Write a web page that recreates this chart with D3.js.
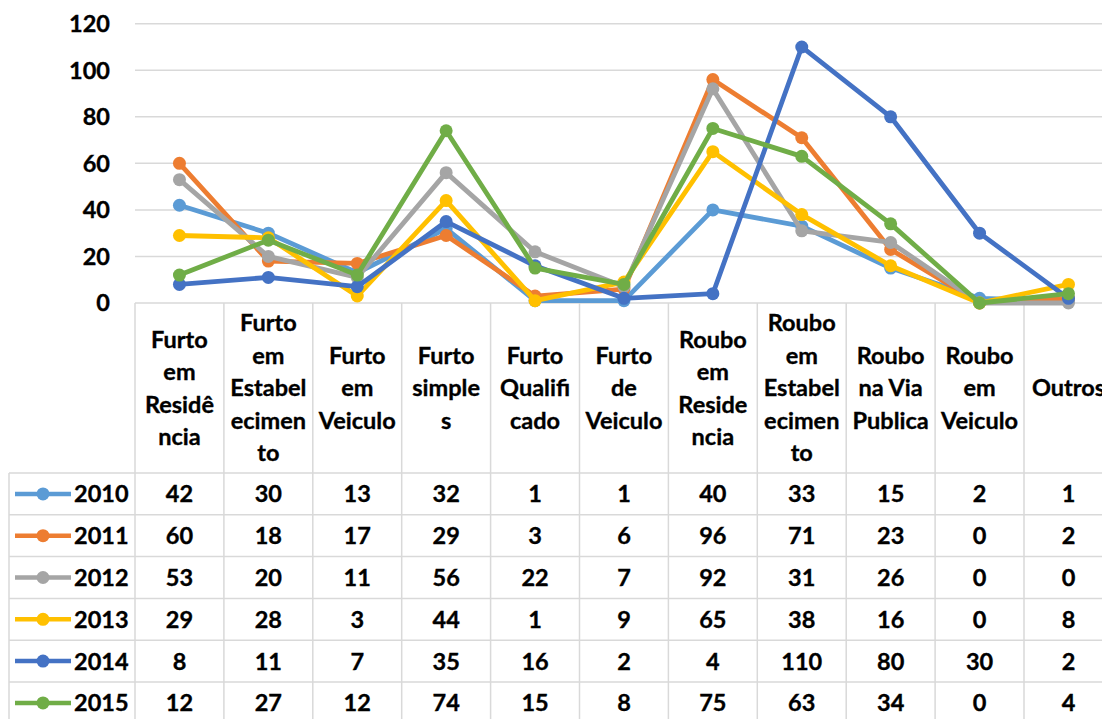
<!DOCTYPE html>
<html>
<head>
<meta charset="utf-8">
<script src="https://cdn.jsdelivr.net/npm/d3@7"></script>
<style>
  body { margin: 0; background: #fff; }
  svg text { font-family: Lato, "Open Sans", sans-serif; font-weight: bold; fill: #000; stroke: #000; stroke-width: 0.35; }
</style>
</head>
<body>
<div id="viz"></div>
<script>
let w = 1102;
let h = 719;

// categories (as wrapped in the table header)
let categories = ["Furto em Residência", "Furto em Estabelecimento", "Furto em Veiculo", "Furto simples",
    "Furto Qualificado", "Furto de Veiculo", "Roubo em Residencia", "Roubo em Estabelecimento",
    "Roubo na Via Publica", "Roubo em Veiculo", "Outros"];
let categoryLines = [
    ["Furto", "em", "Residê", "ncia"],
    ["Furto", "em", "Estabel", "ecimen", "to"],
    ["Furto", "em", "Veiculo"],
    ["Furto", "simple", "s"],
    ["Furto", "Qualifi", "cado"],
    ["Furto", "de", "Veiculo"],
    ["Roubo", "em", "Reside", "ncia"],
    ["Roubo", "em", "Estabel", "ecimen", "to"],
    ["Roubo", "na Via", "Publica"],
    ["Roubo", "em", "Veiculo"],
    ["Outros"]
];

let years = ["2010", "2011", "2012", "2013", "2014", "2015"];
let colors = ["#5B9BD5", "#ED7D31", "#A5A5A5", "#FFC000", "#4472C4", "#70AD47"];

let v2010 = [42, 30, 13, 32, 1, 1, 40, 33, 15, 2, 1];
let v2011 = [60, 18, 17, 29, 3, 6, 96, 71, 23, 0, 2];
let v2012 = [53, 20, 11, 56, 22, 7, 92, 31, 26, 0, 0];
let v2013 = [29, 28, 3, 44, 1, 9, 65, 38, 16, 0, 8];
let v2014 = [8, 11, 7, 35, 16, 2, 4, 110, 80, 30, 2];
let v2015 = [12, 27, 12, 74, 15, 8, 75, 63, 34, 0, 4];

let yTicks = [0, 20, 40, 60, 80, 100, 120];

let series = [v2010, v2011, v2012, v2013, v2014, v2015].map(function (vals, i) {
    return { year: years[i], color: colors[i], values: vals };
});

let plotLeft = 135;
let colW = 88.9;
let plotTop = 23.7;
let plotBottom = 303;
let headerBottom = 473;
let rowH = 41.8;
let legendLeft = 9;
let gridColor = "#D9D9D9";
let fontSize = 23.5;

let viz = d3.select("#viz")
    .append("svg")
    .attr("width", w)
    .attr("height", h)
    .attr("viewBox", "0 0 " + w + " " + h);

let xScale = d3.scaleBand()
    .domain(categories)
    .range([plotLeft, plotLeft + colW * categories.length]);

let yScale = d3.scaleLinear()
    .domain([0, 120])
    .range([plotBottom, plotTop]);

// gridlines
viz.append("g")
    .selectAll("line")
    .data(yTicks.filter(d => d > 0))
    .enter()
    .append("line")
    .attr("x1", plotLeft)
    .attr("x2", w)
    .attr("y1", d => yScale(d))
    .attr("y2", d => yScale(d))
    .attr("stroke", gridColor)
    .attr("stroke-width", 1.5);

// y labels
viz.append("g")
    .selectAll("text")
    .data(yTicks)
    .enter()
    .append("text")
    .attr("x", 110)
    .attr("y", d => yScale(d))
    .attr("dy", "0.36em")
    .attr("text-anchor", "end")
    .attr("font-size", fontSize)
    .text(d => d);

// table grid
let tableBottom = headerBottom + rowH * years.length;
let table = viz.append("g");

table.append("line")
    .attr("x1", plotLeft).attr("x2", w)
    .attr("y1", plotBottom).attr("y2", plotBottom)
    .attr("stroke", gridColor).attr("stroke-width", 1.5);

for (let r = 0; r <= years.length; r++) {
    table.append("line")
        .attr("x1", legendLeft).attr("x2", w)
        .attr("y1", headerBottom + r * rowH).attr("y2", headerBottom + r * rowH)
        .attr("stroke", gridColor).attr("stroke-width", 1.5);
}

table.selectAll(".vline")
    .data(d3.range(categories.length + 1))
    .enter()
    .append("line")
    .attr("class", "vline")
    .attr("x1", i => plotLeft + i * xScale.bandwidth())
    .attr("x2", i => plotLeft + i * xScale.bandwidth())
    .attr("y1", plotBottom)
    .attr("y2", tableBottom)
    .attr("stroke", gridColor).attr("stroke-width", 1.5);

table.append("line")
    .attr("x1", legendLeft).attr("x2", legendLeft)
    .attr("y1", headerBottom).attr("y2", tableBottom)
    .attr("stroke", gridColor).attr("stroke-width", 1.5);

// header labels
let lineH = 32.5;
let headerMid = (plotBottom + headerBottom) / 2;
let headers = viz.append("g")
    .selectAll("text")
    .data(categories)
    .enter()
    .append("text")
    .attr("text-anchor", "middle")
    .attr("font-size", fontSize);

headers.each(function (d, i) {
    let lines = categoryLines[i];
    let cx = xScale(d) + xScale.bandwidth() / 2;
    let startY = headerMid - (lines.length - 1) * lineH / 2;
    d3.select(this).selectAll("tspan")
        .data(lines)
        .enter()
        .append("tspan")
        .attr("x", cx)
        .attr("y", (l, j) => startY + j * lineH)
        .attr("dy", "0.36em")
        .text(l => l);
});

// data rows
let rows = viz.append("g")
    .selectAll("g")
    .data(series)
    .enter()
    .append("g")
    .attr("transform", (d, i) => "translate(0," + (headerBottom + i * rowH + rowH / 2) + ")");

rows.append("line")
    .attr("x1", 15).attr("x2", 71)
    .attr("y1", 0).attr("y2", 0)
    .attr("stroke", d => d.color)
    .attr("stroke-width", 4.5);

rows.append("circle")
    .attr("cx", 43).attr("cy", 0).attr("r", 6.5)
    .attr("fill", d => d.color);

rows.append("text")
    .attr("x", 74)
    .attr("dy", "0.36em")
    .attr("font-size", fontSize)
    .text(d => d.year);

rows.selectAll(".val")
    .data(d => d.values)
    .enter()
    .append("text")
    .attr("class", "val")
    .attr("x", (v, i) => xScale(categories[i]) + xScale.bandwidth() / 2)
    .attr("dy", "0.36em")
    .attr("text-anchor", "middle")
    .attr("font-size", fontSize)
    .text(v => v);

// lines and markers
let lineMaker = d3.line()
    .x((v, i) => xScale(categories[i]) + xScale.bandwidth() / 2)
    .y(v => yScale(v));

let seriesGroups = viz.append("g")
    .selectAll("g")
    .data(series)
    .enter()
    .append("g");

seriesGroups.append("path")
    .attr("d", d => lineMaker(d.values))
    .attr("fill", "none")
    .attr("stroke", d => d.color)
    .attr("stroke-width", 4.8)
    .attr("stroke-linejoin", "round");

seriesGroups.selectAll("circle")
    .data(d => d.values.map(v => ({ v: v, color: d.color })))
    .enter()
    .append("circle")
    .attr("cx", (p, i) => xScale(categories[i]) + xScale.bandwidth() / 2)
    .attr("cy", p => yScale(p.v))
    .attr("r", 6.5)
    .attr("fill", p => p.color);
</script>
</body>
</html>
